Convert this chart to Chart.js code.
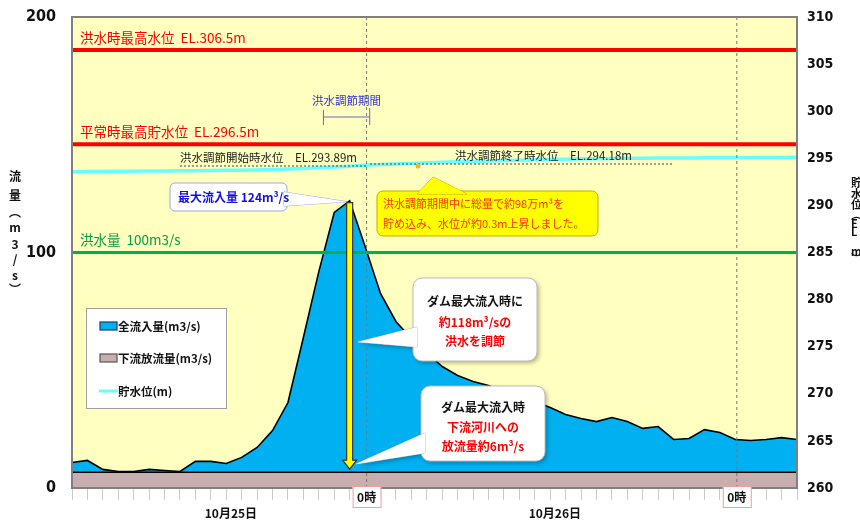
<!DOCTYPE html>
<html><head><meta charset="utf-8">
<script src="https://cdn.jsdelivr.net/npm/chart.js@4.4.0/dist/chart.umd.min.js"></script>
<style>html,body{margin:0;padding:0;background:#fff;}</style>
</head><body>
<canvas id="c" width="860" height="521" style="width:860px;height:521px;display:block"></canvas>
<script>
// ---- data ----
const hours = ['25日5時','6時','7時','8時','9時','10時','11時','12時','13時','14時','15時','16時','17時','18時','19時','20時','21時','22時','23時',
  '26日0時','1時','2時','3時','4時','5時','6時','7時','8時','9時','10時','11時','12時','13時','14時','15時','16時','17時','18時','19時','20時','21時','22時','23時',
  '27日0時','1時','2時','3時','4時'];
const inflow = [10.8,11.7,7.9,7.0,7.0,7.9,7.4,7.0,11.3,11.3,10.4,13.0,17.2,24.4,36.3,63.9,91.9,117.0,122.0,
  102.5,82.6,70.7,63.5,57.5,51.6,47.8,45.2,43.5,41.0,38.9,36.7,34.2,31.2,29.5,28.2,29.9,28.2,25.3,26.1,20.6,21.0,24.8,23.6,
  20.6,20.2,20.6,21.4,20.6];
const outflow = [6.7,6.7,6.7,6.7,6.7,6.7,6.7,6.7,6.7,6.7,6.7,6.7,6.7,6.7,6.7,6.7,6.7,6.7,6.7,
  6.7,6.7,6.7,6.7,6.7,6.7,6.7,6.7,6.7,6.7,6.7,6.7,6.7,6.7,6.7,6.7,6.7,6.7,6.7,6.7,6.7,6.7,6.7,6.7,
  6.7,6.7,6.7,6.7,6.7];
const waterLevel = [293.58,293.60,293.61,293.62,293.63,293.64,293.66,293.67,293.69,293.70,293.72,293.74,293.76,293.80,293.86,293.92,293.99,294.07,294.16,
  294.25,294.33,294.40,294.46,294.52,294.58,294.63,294.68,294.72,294.76,294.80,294.84,294.88,294.91,294.94,294.96,294.98,295.00,295.01,295.02,295.03,295.04,295.05,295.06,
  295.07,295.08,295.09,295.09,295.10];
const seriesNames = ['全流入量(m3/s)','下流放流量(m3/s)','貯水位(m)'];
const leftTicks = [0,100,200];
const rightTicks = [260,265,270,275,280,285,290,295,300,305,310];
const refLevels = [306.5,296.5];
const refLevelLabels = ['洪水時最高水位  EL.306.5m','平常時最高貯水位  EL.296.5m'];
const floodFlow = 100;
const floodFlowLabel = '洪水量  100m3/s';
const midnightIdx = [19,43];
const midnightLabel = '0時';
const dateLabels = ['10月25日','10月26日'];
const datePos = [10.3,31.3];
const peakIdx = 18;
const peakLabel = '最大流入量 124m³/s';
const startLevelLabel = '洪水調節開始時水位　EL.293.89m';
const endLevelLabel = '洪水調節終了時水位　EL.294.18m';
const periodLabel = '洪水調節期間';
const periodRange = [16.3,19.3];
const noteYellow = ['洪水調節期間中に総量で約98万m³を','貯め込み、水位が約0.3m上昇しました。'];
const noteCut = ['ダム最大流入時に','約118m³/sの','洪水を調節'];
const noteOut = ['ダム最大流入時','下流河川への','放流量約6m³/s'];

const JP = '"Noto Sans CJK JP","Noto Sans",sans-serif';
const NUM = '"Liberation Sans Narrow","DejaVu Sans Condensed","DejaVu Sans",sans-serif';

function rr(ctx,x,y,w,h,r){ctx.beginPath();ctx.moveTo(x+r,y);ctx.arcTo(x+w,y,x+w,y+h,r);ctx.arcTo(x+w,y+h,x,y+h,r);ctx.arcTo(x,y+h,x,y,r);ctx.arcTo(x,y,x+w,y,r);ctx.closePath();}
function tri(ctx,a,t,b){ctx.beginPath();ctx.moveTo(a[0],a[1]);ctx.lineTo(t[0],t[1]);ctx.lineTo(b[0],b[1]);ctx.closePath();}
function callout(ctx,bx,tip,a,b,fill,stroke,lw,shadow){
  ctx.save();
  ctx.lineWidth=lw; ctx.strokeStyle=stroke; ctx.fillStyle=fill;
  if(shadow){ctx.shadowColor='rgba(0,0,0,0.3)';ctx.shadowBlur=4;ctx.shadowOffsetX=2;ctx.shadowOffsetY=2;}
  tri(ctx,a,tip,b); ctx.fill();
  rr(ctx,bx[0],bx[1],bx[2],bx[3],bx[4]); ctx.fill();
  ctx.shadowColor='transparent';
  tri(ctx,a,tip,b); ctx.stroke();
  rr(ctx,bx[0],bx[1],bx[2],bx[3],bx[4]); ctx.stroke();
  tri(ctx,a,tip,b); ctx.fill();
  ctx.restore();
}

const deco = {
  id:'deco',
  beforeDraw(chart){
    const {ctx,chartArea:a}=chart;
    ctx.save(); ctx.fillStyle='#FFFFC0'; ctx.fillRect(a.left,a.top,a.right-a.left,a.bottom-a.top); ctx.restore();
  },
  afterDatasetsDraw(chart){
    const {ctx,chartArea:a,scales}=chart; const X=scales.x, Y=scales.y, Y2=scales.y2;
    ctx.save();
    // vertical dashed midnight lines
    ctx.strokeStyle='#777'; ctx.lineWidth=1; ctx.setLineDash([3,3]);
    midnightIdx.forEach(i=>{const x=X.getPixelForValue(i)+1.5;ctx.beginPath();ctx.moveTo(x,a.top);ctx.lineTo(x,a.bottom);ctx.stroke();});
    ctx.setLineDash([]);
    // red reference lines
    ctx.strokeStyle='#FF0000'; ctx.lineWidth=4;
    refLevels.forEach(v=>{const y=Y2.getPixelForValue(v);ctx.beginPath();ctx.moveTo(a.left,y);ctx.lineTo(a.right,y);ctx.stroke();});
    // green flood flow line
    ctx.strokeStyle='#00B050'; ctx.lineWidth=3;
    {const y=Y.getPixelForValue(floodFlow);ctx.beginPath();ctx.moveTo(a.left,y);ctx.lineTo(a.right,y);ctx.stroke();}
    // labels of reference lines
    ctx.font='13.5px '+JP; ctx.fillStyle='#FF0000'; ctx.textBaseline='alphabetic'; ctx.textAlign='left';
    refLevels.forEach((v,k)=>{const y=Y2.getPixelForValue(v);ctx.fillText(refLevelLabels[k],a.left+8,y-7);});
    ctx.fillStyle='#00A040';
    ctx.fillText(floodFlowLabel,a.left+8,Y.getPixelForValue(floodFlow)-8);
    // start / end water level notes
    ctx.font='11.5px '+JP; ctx.fillStyle='#222';
    ctx.fillText(startLevelLabel,180,162);
    ctx.fillText(endLevelLabel,455,160);
    ctx.strokeStyle='#444'; ctx.lineWidth=1; ctx.setLineDash([2,2]);
    ctx.beginPath();ctx.moveTo(180,166);ctx.lineTo(368,166);ctx.stroke();
    ctx.beginPath();ctx.moveTo(370,164);ctx.lineTo(673,164);ctx.stroke();
    ctx.setLineDash([]);
    ctx.fillStyle='#FFB020'; ctx.beginPath(); ctx.arc(418,166,2.5,0,Math.PI*2); ctx.fill();
    // period bracket
    const p1=X.getPixelForValue(periodRange[0]), p2=X.getPixelForValue(periodRange[1]);
    ctx.strokeStyle='#6666CC'; ctx.lineWidth=1;
    ctx.beginPath();ctx.moveTo(p1,117);ctx.lineTo(p2,117);ctx.moveTo(p1,110);ctx.lineTo(p1,125);ctx.moveTo(p2,108);ctx.lineTo(p2,125);ctx.stroke();
    ctx.font='11.5px '+JP; ctx.fillStyle='#3333CC'; ctx.textAlign='center';
    ctx.fillText(periodLabel,(p1+p2)/2,105);
    // yellow arrow
    const px=X.getPixelForValue(peakIdx), py=Y.getPixelForValue(inflow[peakIdx]), pb=Y.getPixelForValue(outflow[peakIdx]);
    {const sw=3,hw=7,hh=9,y1=py+2,y2=pb-3;
     ctx.beginPath();ctx.moveTo(px-sw,y1);ctx.lineTo(px+sw,y1);ctx.lineTo(px+sw,y2-hh);ctx.lineTo(px+hw,y2-hh);ctx.lineTo(px,y2);ctx.lineTo(px-hw,y2-hh);ctx.lineTo(px-sw,y2-hh);ctx.closePath();
     ctx.fillStyle='#FFFF00';ctx.fill();ctx.strokeStyle='#333';ctx.lineWidth=1.2;ctx.stroke();}
    // blue callout (peak)
    callout(ctx,[170,183,117,28,5],[px-3,py+1],[284,192],[284,206],'#FFFFFF','#9AA8E8',1,false);
    ctx.font='bold 12px '+JP; ctx.fillStyle='#1010E0'; ctx.textAlign='left'; ctx.textBaseline='middle';
    ctx.fillText(peakLabel,178,197);
    // yellow callout
    callout(ctx,[377,191,221,45,6],[433,177],[417,194],[467,194],'#FFFF00','#C8A800',1,false);
    ctx.font='11px '+JP; ctx.fillStyle='#FF3300'; ctx.textAlign='left';
    ctx.fillText(noteYellow[0],383,204); ctx.fillText(noteYellow[1],383,224);
    // white callout 1
    callout(ctx,[413,278,124,83,9],[358,342],[417,327],[417,347],'#FFFFFF','#BBBBBB',1,true);
    ctx.font='bold 12px '+JP; ctx.textAlign='center';
    ctx.fillStyle='#111'; ctx.fillText(noteCut[0],475,301);
    ctx.fillStyle='#FF0000'; ctx.fillText(noteCut[1],475,322); ctx.fillText(noteCut[2],475,341);
    // white callout 2
    callout(ctx,[421,386,124,75,9],[356,464],[425,433],[425,453],'#FFFFFF','#BBBBBB',1,true);
    ctx.fillStyle='#111'; ctx.fillText(noteOut[0],483,407);
    ctx.fillStyle='#FF0000'; ctx.fillText(noteOut[1],483,427); ctx.fillText(noteOut[2],483,446);
    // plot border
    ctx.strokeStyle='#808080'; ctx.lineWidth=2;
    ctx.strokeRect(a.left,a.top,a.right-a.left,a.bottom-a.top);
    ctx.restore();
  },
  afterDraw(chart){
    const {ctx,chartArea:a,scales}=chart; const X=scales.x;
    ctx.save();
    // legend
    ctx.fillStyle='#fff'; ctx.fillRect(86,308,140,100); ctx.strokeStyle='#A0A0A0'; ctx.lineWidth=1; ctx.strokeRect(86.5,308.5,140,100);
    const ds=chart.data.datasets;
    const lg=[{ds:ds[0],y:326,kind:'box',edge:'#1a3d6e'},{ds:ds[1],y:358,kind:'box',edge:'#555'},{ds:ds[2],y:391,kind:'line'}];
    ctx.font='bold 11.5px '+JP; ctx.textBaseline='middle'; ctx.textAlign='left';
    lg.forEach(it=>{
      if(it.kind==='box'){ctx.fillStyle=it.ds.backgroundColor;ctx.fillRect(100,it.y-4,17,8);ctx.strokeStyle=it.edge;ctx.lineWidth=1.2;ctx.strokeRect(100,it.y-4,17,8);}
      else{ctx.strokeStyle=it.ds.borderColor;ctx.lineWidth=3;ctx.beginPath();ctx.moveTo(99,it.y);ctx.lineTo(118,it.y);ctx.stroke();}
      ctx.fillStyle='#111'; ctx.fillText(it.ds.label,118,it.y+1);
    });
    // x labels
    ctx.textAlign='center'; ctx.textBaseline='middle';
    midnightIdx.forEach(i=>{const x=X.getPixelForValue(i)+1.5;
      ctx.fillStyle='#fff';ctx.fillRect(x-14,486,28,21);ctx.strokeStyle='#FF9999';ctx.lineWidth=1;ctx.strokeRect(x-14+0.5,486.5,28,21);
      ctx.fillStyle='#111';ctx.font='bold 12px '+JP;ctx.fillText(midnightLabel,x,497);});
    ctx.font='bold 12px '+JP;
    datePos.forEach((p,k)=>ctx.fillText(dateLabels[k],X.getPixelForValue(p),513));
    // axis titles (vertical)
    ctx.font='bold 12px '+JP; ctx.fillStyle='#111';
    const lt=[['流',176],['量',195],['︵',212],['m',227],['3',244],['/',259],['s',275],['︶',289]];
    lt.forEach(c=>ctx.fillText(c[0],15,c[1]));
    ctx.textAlign='left'; ctx.font='bold 11px '+JP;
    const rt=[['貯',183],['水',194],['位',205],['︵',215],['E',224],['L',232],['m',252],['︶',259]];
    rt.forEach(c=>ctx.fillText(c[0],851,c[1]));
    ctx.restore();
  }
};

new Chart(document.getElementById('c'),{
  type:'line',
  data:{labels:hours,datasets:[
    {label:seriesNames[0],data:inflow,yAxisID:'y',borderColor:'#000',borderWidth:1.6,backgroundColor:'#00B0F0',fill:'origin',pointRadius:0,order:2,tension:0},
    {label:seriesNames[1],data:outflow,yAxisID:'y',borderColor:'#000',borderWidth:1.6,backgroundColor:'#C8AEAE',fill:'origin',pointRadius:0,order:1,tension:0},
    {label:seriesNames[2],data:waterLevel,yAxisID:'y2',borderColor:'#66FFFF',borderWidth:3.5,fill:false,pointRadius:0,order:0,tension:0}
  ]},
  options:{
    responsive:false, animation:false, devicePixelRatio:1,
    layout:{padding:{top:17,left:0,right:0,bottom:0}},
    plugins:{legend:{display:false},tooltip:{enabled:false},title:{display:false}},
    scales:{
      x:{type:'category',offset:false,
         grid:{drawOnChartArea:false,drawTicks:true,tickLength:12,color:'#CCCCCC',lineWidth:1},
         border:{display:false},
         ticks:{autoSkip:false,maxRotation:0,minRotation:0,padding:0,callback:()=>'',font:{size:1}},
         afterFit:s=>{s.height=33;s.paddingLeft=0;s.paddingRight=0;}},
      y:{position:'left',min:0,max:200,
         afterBuildTicks:s=>{s.ticks=leftTicks.map(v=>({value:v}));},
         grid:{display:false},border:{display:false},
         ticks:{color:'#111',padding:8,font:{family:NUM,weight:'bold',size:16}},
         afterFit:s=>{s.width=72;s.paddingTop=0;s.paddingBottom=0;}},
      y2:{position:'right',min:260,max:310,
         afterBuildTicks:s=>{s.ticks=rightTicks.map(v=>({value:v}));},
         grid:{display:false},border:{display:false},
         ticks:{color:'#111',padding:2,font:{family:NUM,weight:'bold',size:14}},
         afterFit:s=>{s.width=63;s.paddingTop=0;s.paddingBottom=0;}}
    }
  },
  plugins:[deco]
});
</script>
</body></html>
